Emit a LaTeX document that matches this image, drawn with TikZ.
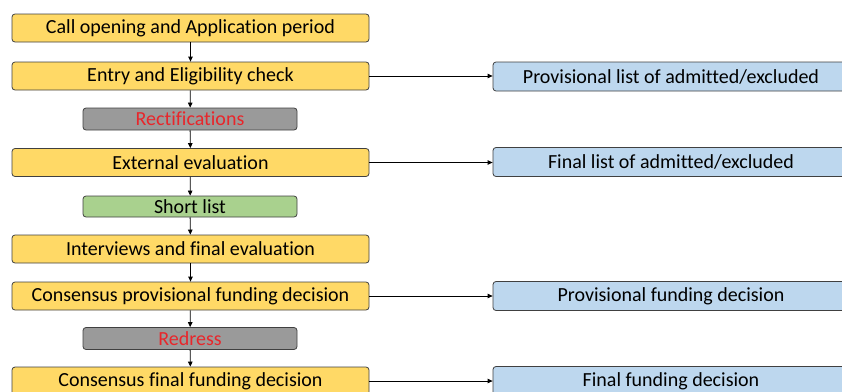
\documentclass[tikz,border=0pt]{standalone}
\usepackage{fontspec}
\setmainfont{Carlito}[Ligatures=NoCommon]
\usetikzlibrary{arrows.meta}
\definecolor{stageyellow}{HTML}{FFD966}
\definecolor{outcomeblue}{HTML}{BDD7EE}
\definecolor{listgreen}{HTML}{A9D18E}
\definecolor{stepgray}{HTML}{9A9A9A}
\definecolor{edgegray}{HTML}{404040}
\definecolor{alertred}{HTML}{E8262B}
\tikzset{
  base/.style={draw=edgegray, line width=0.8pt, rounded corners=3pt, inner sep=0pt,
    font=\fontsize{20}{20}\selectfont, text=black},
  stage/.style={base, fill=stageyellow, minimum width=357pt, minimum height=28pt},
  outcome/.style={base, fill=outcomeblue, minimum width=356pt, minimum height=29pt},
  shortbox/.style={base, fill=listgreen, minimum width=214pt, minimum height=21pt},
  fixbox/.style={base, fill=stepgray, text=alertred, minimum width=214pt, minimum height=22pt},
  flow/.style={line width=0.8pt, -{Triangle[length=5pt,width=4.5pt]}}
}
\begin{document}
\begin{tikzpicture}[x=1pt,y=-1pt]
\useasboundingbox (0,0) rectangle (842,391);
\clip (0,0) rectangle (842,391);

% main sequence of stages
\node[stage]    (call)  at (190.5,28)    {Call opening and Application period};
\node[stage]    (entry) at (190.5,76)    {Entry and Eligibility check};
\node[fixbox]   (rect)  at (190,119)     {Rectifications};
\node[stage]    (ext)   at (190.5,162.5) {External evaluation};
\node[shortbox] (short) at (190,206.5)   {Short list};
\node[stage]    (inter) at (190.5,249)   {Interviews and final evaluation};
\node[stage]    (cprov) at (190.5,296)   {Consensus provisional funding decision};
\node[fixbox]   (redr)  at (190,338.5)   {Redress};
\node[stage]    (cfin)  at (190.5,381)   {Consensus final funding decision};

% published outcomes
\node[outcome] (plist) at (671,76.5) {Provisional list of admitted/excluded};
\node[outcome] (flist) at (671,162)  {Final list of admitted/excluded};
\node[outcome] (pfund) at (671,296)  {Provisional funding decision};
\node[outcome] (ffund) at (671,381)  {Final funding decision};

% vertical flow
\draw[flow] (call) -- (entry);
\draw[flow] (entry) -- (rect);
\draw[flow] (rect) -- (ext);
\draw[flow] (ext) -- (short);
\draw[flow] (short) -- (inter);
\draw[flow] (inter) -- (cprov);
\draw[flow] (cprov) -- (redr);
\draw[flow] (redr) -- (cfin);

% links to outcomes
\draw[flow] (entry.east) -- (entry.east -| plist.west);
\draw[flow] (ext.east) -- (ext.east -| flist.west);
\draw[flow] (cprov.east) -- (cprov.east -| pfund.west);
\draw[flow] (cfin.east) -- (cfin.east -| ffund.west);
\end{tikzpicture}
\end{document}
